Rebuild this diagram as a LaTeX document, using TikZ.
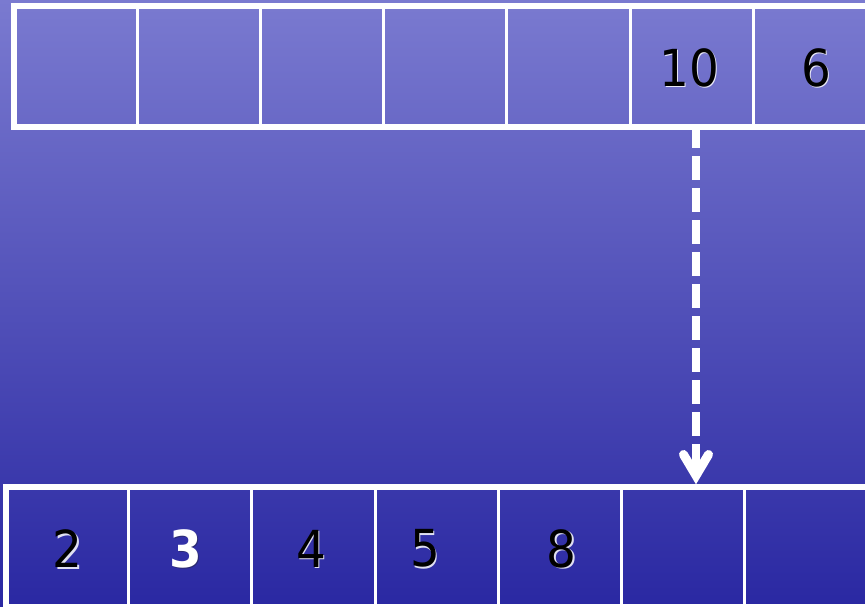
\documentclass[tikz,border=0pt]{standalone}
\usepackage{fontspec}
\setmainfont{DejaVu Sans}[FakeStretch=0.92]
\usetikzlibrary{calc}
\definecolor{bgtop}{RGB}{122,122,208}
\definecolor{bgmid}{RGB}{72,72,190}
\definecolor{bgbot}{RGB}{42,40,162}
\definecolor{shadowdark}{RGB}{40,40,90}
\begin{document}
\begin{tikzpicture}[x=1pt,y=-1pt,
  cell/.style={draw=white,line width=3pt,minimum width=123.2pt,inner sep=0pt,outer sep=0pt,anchor=north west},
  topcell/.style={cell,minimum height=121pt},
  botcell/.style={cell,minimum height=120.5pt},
  numfont/.style={font=\fontsize{51}{56}\selectfont,inner sep=0pt},
  num/.style={numfont,text=black},
  numglow/.style={numfont,text=white,opacity=0.85},
  numwhite/.style={numfont,font=\fontsize{51}{56}\selectfont\bfseries,text=white},
  numdark/.style={numfont,font=\fontsize{51}{56}\selectfont\bfseries,text=shadowdark,opacity=0.7},
  frame/.style={draw=white,line width=6pt},
  shaft/.style={draw=white,line width=8pt,dash pattern=on 24pt off 8pt},
  head/.style={draw=white,line width=9pt,line cap=round,line join=miter}
]
\useasboundingbox (0,0) rectangle (865,606);
\clip (0,0) rectangle (865,606);
\shade[top color=bgtop,middle color=bgmid,bottom color=bgbot] (0,0) rectangle (865,606);

% top array
\foreach \i in {1,...,7}{
  \node[topcell] (t\i) at ({14+123.2*(\i-1)},6) {};
}
\draw[frame] (t1.north west) rectangle (t7.south east);

% bottom array
\foreach \i in {1,...,7}{
  \node[botcell] (b\i) at ({5.5+123.2*(\i-1)},486.5) {};
}
\draw[frame] (b1.north west) rectangle (b7.south east);

% arrow
\coordinate (as) at ([xshift=4.4pt,yshift=3pt]t6.south);
\coordinate (ae) at ($(as |- b6.north)+(0,-11)$);
\draw[shaft] (as) -- ($(ae)+(0,-6)$);
\draw[head] ($(ae)+(-12.5,-21)$) -- (ae) -- ($(ae)+(12.5,-21)$);
\draw[frame] (t1.south west) -- (t7.south east);

% numbers in top array
\node[numglow] (t6g) at ($(t6.center)+(-1,2.5)$) {10};
\node[num] (t6n) at ($(t6.center)+(-2.5,1)$) {10};
\node[numglow] (t7g) at ($(t7.center)+(3,2.5)$) {6};
\node[num] (t7n) at ($(t7.center)+(1.5,1)$) {6};

% numbers in bottom array
\node[numglow] (b1g) at ($(b1.center)+(2,3.5)$) {2};
\node[num] (b1n) at ($(b1.center)+(0.5,2)$) {2};
\node[numdark] (b2g) at ($(b2.center)+(-3,3.5)$) {3};
\node[numwhite] (b2n) at ($(b2.center)+(-4.5,2)$) {3};
\node[numglow] (b3g) at ($(b3.center)+(-1,3.5)$) {4};
\node[num] (b3n) at ($(b3.center)+(-2.5,2)$) {4};
\node[numglow] (b4g) at ($(b4.center)+(-10,3.5)$) {5};
\node[num] (b4n) at ($(b4.center)+(-11.5,2)$) {5};
\node[numglow] (b5g) at ($(b5.center)+(3.5,3.5)$) {8};
\node[num] (b5n) at ($(b5.center)+(2,2)$) {8};
\end{tikzpicture}
\end{document}
